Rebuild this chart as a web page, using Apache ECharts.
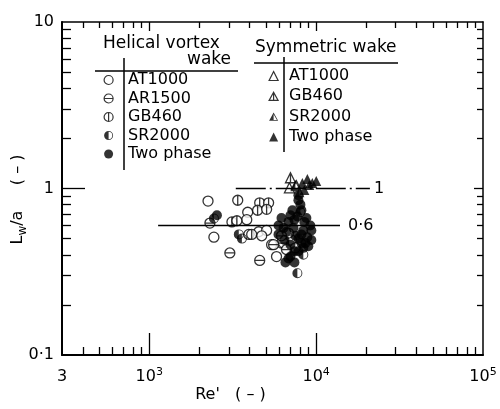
<html>
<head>
<meta charset="utf-8" />
<title>Lw/a against Re'</title>
<script src="https://cdn.jsdelivr.net/npm/echarts@6/dist/echarts.min.js"></script>
<style>
	body { margin: 0; background: #fff; }
	#chart { width: 500px; height: 409px; }
</style>
</head>
<body>
<div id="chart"></div>
<script type="text/javascript">
// helical vortex wake (circles), [Re', Lw/a]
var helicalAT1000 = [[2250, 0.84], [2440, 0.51], [3890, 0.72], [3840, 0.65], [3950, 0.53], [4530, 0.55], [5050, 0.56],
	[4720, 0.52], [5790, 0.39], [5410, 0.46], [7120, 0.49], [7510, 0.44], [6830, 0.54], [6200, 0.47]];
var helicalAR1500 = [[2310, 0.62], [3040, 0.41], [4590, 0.37], [5560, 0.46], [6380, 0.47], [6640, 0.43], [6200, 0.52]];
var helicalGB460 = [[3390, 0.85], [4590, 0.82], [5190, 0.82], [4460, 0.74], [5050, 0.75], [3130, 0.63], [3350, 0.64], [4110, 0.53]];
var helicalSR2000 = [[2440, 0.66], [3440, 0.53], [3590, 0.50], [7720, 0.31], [8380, 0.40], [8050, 0.72]];
var helicalTwoPhase = [[2545, 0.69], [7830, 0.91], [7830, 0.85], [8050, 0.80], [8160, 0.74], [7720, 0.68], [7410, 0.65],
	[8500, 0.63], [6830, 0.63], [6380, 0.58], [7310, 0.58], [8380, 0.56], [9230, 0.60], [8860, 0.51], [8160, 0.47],
	[7510, 0.52], [8620, 0.47], [6830, 0.38], [7410, 0.36], [7830, 0.42], [8380, 0.44], [6640, 0.55], [7020, 0.46], [5950, 0.53],
	[6200, 0.665], [7020, 0.69], [8740, 0.665], [9360, 0.56], [5950, 0.60], [7830, 0.50], [6460, 0.49], [8980, 0.45],
	[7410, 0.42], [7020, 0.39], [8160, 0.53], [9360, 0.49], [7210, 0.74], [6550, 0.36]];

// symmetric wake (triangles)
var symAT1000 = [[6920, 1.01], [7610, 1.04]];
var symGB460 = [[7020, 1.16]];
var symSR2000 = [[7510, 1.05], [7940, 0.95]];
var symTwoPhase = [[8270, 1.08], [8860, 1.14], [9490, 1.08], [10020, 1.11], [8500, 0.98], [9100, 1.05]];

// reference lines
var lineOne = [[3300, 1], [21000, 1]];
var lineSix = [[1130, 0.6], [13900, 0.6]];

// ticks and labels
var xMinorTicks = [400, 500, 600, 700, 800, 900, 2000, 3000, 4000, 5000, 6000, 7000, 8000, 9000,
	20000, 30000, 40000, 50000, 60000, 70000, 80000, 90000];
var xMajorTicks = [1000, 10000];
var xLabelValues = [300, 1000, 10000, 100000];
var yMinorTicks = [0.2, 0.3, 0.4, 0.5, 0.6, 0.7, 0.8, 0.9, 2, 3, 4, 5, 6, 7, 8, 9];
var yMajorTicks = [1];
var yLabelValues = [0.1, 1, 10];

var font = 'DejaVu Sans';
var circle = 'path://M0,10A10,10,0,1,1,20,10A10,10,0,1,1,0,10Z';
var circleH = 'path://M0,10A10,10,0,1,1,20,10A10,10,0,1,1,0,10ZM0,10L20,10';
var circleV = 'path://M0,10A10,10,0,1,1,20,10A10,10,0,1,1,0,10ZM10,0L10,20';
var circleHalf = 'path://M0,10A10,10,0,1,1,20,10A10,10,0,1,1,0,10ZM10,1.8L10,18.2A8.2,8.2,0,0,0,10,1.8Z';
var triV = 'path://M10,0L20,18L0,18ZM10,0L10,18';
var triHalf = 'path://M10,0L20,18L0,18ZM10,3.8L10,16.4L17.3,16.4Z';

var openStyle = { color: '#fff', borderColor: '#000', borderWidth: 1.3 };
var fillStyle = { color: '#000', borderWidth: 0 };

function xLabel(v) {
	var e = Math.round(Math.log(v) / Math.LN10);
	if (Math.abs(v - Math.pow(10, e)) > 1) return '3';
	return '10{sup|' + e + '}';
}

function yLabel(v) {
	var e = Math.round(Math.log(v) / Math.LN10);
	if (e < 0) return '0·1';
	return e == 0 ? '1' : '10';
}

function xAxisPart(pos, tickLen, ticks, withLine, withLabel) {
	return {
		type: 'log', min: 300, max: 100000, position: pos,
		axisLine: { show: withLine, onZero: false, lineStyle: { color: '#000', width: pos == 'bottom' ? 2 : 1.5 } },
		axisTick: { show: true, inside: true, length: tickLen, customValues: ticks, lineStyle: { color: '#000', width: 1.3 } },
		axisLabel: withLabel ? {
			show: true, customValues: xLabelValues, formatter: xLabel, margin: 12,
			alignMinLabel: 'center', alignMaxLabel: 'center',
			color: '#000', fontSize: 16, fontFamily: font, lineHeight: 20,
			rich: { sup: { fontSize: 11, fontFamily: font, color: '#000', verticalAlign: 'top', lineHeight: 11 } }
		} : { show: false },
		splitLine: { show: false }
	};
}

function yAxisPart(pos, tickLen, ticks, withLine, withLabel) {
	return {
		type: 'log', min: 0.1, max: 10, position: pos,
		axisLine: { show: withLine, onZero: false, lineStyle: { color: '#000', width: pos == 'left' ? 2 : 1.5 } },
		axisTick: { show: true, inside: true, length: tickLen, customValues: ticks, lineStyle: { color: '#000', width: 1.3 } },
		axisLabel: withLabel ? {
			show: true, customValues: yLabelValues, formatter: yLabel, margin: 8,
			color: '#000', fontSize: 16, fontFamily: font
		} : { show: false },
		splitLine: { show: false }
	};
}

var xMain = xAxisPart('bottom', 8, xMinorTicks, true, true);
xMain.name = "Re'   ( – )";
xMain.nameLocation = 'middle';
xMain.nameGap = 32;
xMain.nameMoveOverlap = false;
xMain.nameTextStyle = { color: '#000', fontSize: 16, fontFamily: font, padding: [0, 84, 0, 0] };

var yMain = yAxisPart('left', 9, yMinorTicks, true, true);
yMain.name = '{i|L}{s|w}{i|/a     ( – )}';
yMain.nameLocation = 'middle';
yMain.nameGap = 33;
yMain.nameMoveOverlap = false;
yMain.nameTextStyle = {
	color: '#000', fontSize: 16, fontFamily: font, padding: [0, 22, 0, 0],
	rich: {
		i: { fontSize: 16, fontFamily: font, color: '#000', lineHeight: 22 },
		s: { fontSize: 12, fontFamily: font, color: '#000', verticalAlign: 'bottom', lineHeight: 12 }
	}
};

var legendText = { color: '#000', fontSize: 16, fontFamily: font, lineHeight: 18 };

var myChart = echarts.init(document.getElementById('chart'));
var option = {
	backgroundColor: '#fff',
	animation: false,
	grid: { left: 62, right: 17, top: 22, bottom: 54, containLabel: false, outerBoundsMode: 'none' },
	xAxis: [
		xMain,
		xAxisPart('bottom', 22, xMajorTicks, false, false),
		xAxisPart('top', 6, xMinorTicks, true, false),
		xAxisPart('top', 9, xMajorTicks, false, false)
	],
	yAxis: [
		yMain,
		yAxisPart('left', 23, yMajorTicks, false, false),
		yAxisPart('right', 6, yMinorTicks, true, false),
		yAxisPart('right', 9, yMajorTicks, false, false)
	],
	legend: [{
		orient: 'vertical', left: 103.5, top: 71, padding: 0, itemGap: 0.5,
		itemWidth: 9, itemHeight: 9, selectedMode: false,
		itemStyle: { borderWidth: 1.2 },
		textStyle: Object.assign({ padding: [0, 0, 0, 10] }, legendText),
		data: ['AT1000', 'AR1500', 'GB460', 'SR2000', 'Two phase']
	}, {
		orient: 'vertical', left: 268.5, top: 67, padding: 0, itemGap: 2.3,
		itemWidth: 9, itemHeight: 9, selectedMode: false,
		itemStyle: { borderWidth: 1.2 },
		textStyle: Object.assign({ padding: [0, 0, 0, 6] }, legendText),
		formatter: function(name) { return name.replace('sym ', ''); },
		data: ['sym AT1000', 'sym GB460', 'sym SR2000', 'sym Two phase']
	}],
	graphic: [
		{ type: 'text', x: 103, y: 44, style: { text: 'Helical vortex', fontSize: 17, fontFamily: font, fill: '#000', verticalAlign: 'middle' } },
		{ type: 'text', x: 231, y: 60, style: { text: 'wake', fontSize: 17, fontFamily: font, fill: '#000', align: 'right', verticalAlign: 'middle' } },
		{ type: 'line', shape: { x1: 95, y1: 71, x2: 238, y2: 71 }, style: { stroke: '#000', lineWidth: 1.5 } },
		{ type: 'line', shape: { x1: 124, y1: 58, x2: 124, y2: 170 }, style: { stroke: '#000', lineWidth: 1.5 } },
		{ type: 'text', x: 255, y: 48, style: { text: 'Symmetric wake', fontSize: 17, fontFamily: font, fill: '#000', verticalAlign: 'middle' } },
		{ type: 'line', shape: { x1: 254, y1: 63, x2: 398, y2: 63 }, style: { stroke: '#000', lineWidth: 1.5 } },
		{ type: 'line', shape: { x1: 284, y1: 57, x2: 284, y2: 152 }, style: { stroke: '#000', lineWidth: 1.5 } }
	],
	series: [{
			type: 'line', data: lineOne, symbol: 'none', silent: true,
			lineStyle: { color: '#000', width: 1.5, type: [30, 4, 2, 4] },
			endLabel: { show: true, formatter: '1', color: '#000', fontSize: 16, fontFamily: font, distance: 4 }
		},
		{
			type: 'line', data: lineSix, symbol: 'none', silent: true,
			lineStyle: { color: '#000', width: 1.5 },
			endLabel: { show: true, formatter: '0·6', color: '#000', fontSize: 16, fontFamily: font, distance: 8 }
		},
		{ name: 'AT1000', type: 'scatter', symbol: circle, symbolSize: 10, itemStyle: openStyle, data: helicalAT1000 },
		{ name: 'AR1500', type: 'scatter', symbol: circleH, symbolSize: 10, itemStyle: openStyle, data: helicalAR1500 },
		{ name: 'GB460', type: 'scatter', symbol: circleV, symbolSize: 10, itemStyle: openStyle, data: helicalGB460 },
		{ name: 'SR2000', type: 'scatter', symbol: circleHalf, symbolSize: 10, itemStyle: fillStyle, data: helicalSR2000 },
		{ name: 'Two phase', type: 'scatter', symbol: 'circle', symbolSize: 10, itemStyle: fillStyle, data: helicalTwoPhase },
		{ name: 'sym AT1000', type: 'scatter', symbol: 'triangle', symbolSize: 10, itemStyle: openStyle, data: symAT1000 },
		{ name: 'sym GB460', type: 'scatter', symbol: triV, symbolSize: 10, itemStyle: openStyle, data: symGB460 },
		{ name: 'sym SR2000', type: 'scatter', symbol: triHalf, symbolSize: 10, itemStyle: fillStyle, data: symSR2000 },
		{ name: 'sym Two phase', type: 'scatter', symbol: 'triangle', symbolSize: 10, itemStyle: fillStyle, data: symTwoPhase }
	]
};
myChart.setOption(option, true);
</script>
</body>
</html>
